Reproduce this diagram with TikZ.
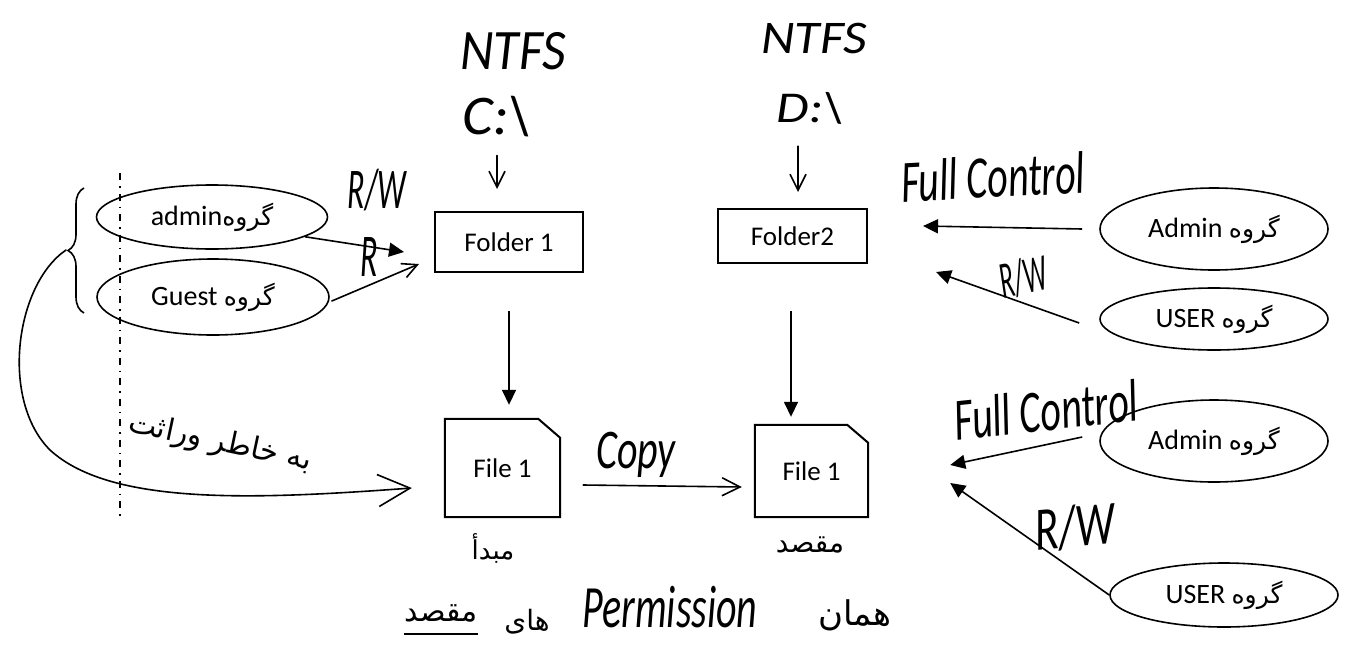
\documentclass[tikz,border=0pt]{standalone}
\usepackage{fontspec}
\usetikzlibrary{shapes.geometric,arrows.meta,decorations.pathreplacing}
\setmainfont{Carlito}
\newfontfamily\fa[Script=Arabic]{DejaVu Sans}
\TeXXeTstate=1
% the Persian word "group" that follows each group name
\newcommand\grpword{{\fa\fontsize{25}{30}\selectfont\beginR گروه\endR}}
\begin{document}
\begin{tikzpicture}[x=1pt,y=-1pt,
  grp/.style={draw, ellipse, line width=1.6pt, inner sep=0pt, font=\fontsize{28}{32}\selectfont},
  fbox/.style={draw, rectangle, line width=2pt, inner sep=0pt, font=\fontsize{27}{32}\selectfont},
  docnode/.style={rectangle, inner sep=0pt, font=\fontsize{27}{32}\selectfont},
  docline/.style={line width=2pt, line join=miter},
  hw/.style={font=\itshape\fontsize{#1}{#1}\selectfont, inner sep=0pt},
  fahw/.style={font=\fa\fontsize{#1}{#1}\selectfont, inner sep=0pt},
  link/.style={line width=1.6pt, -{Triangle[length=15pt,width=14pt]}},
  pen/.style={line width=1.6pt, line cap=round, -{Straight Barb[length=#1,width=#1]}},
  guide/.style={line width=1.5pt, dash pattern=on 7pt off 6pt on 1.5pt off 6pt}
]
\useasboundingbox (0,0) rectangle (1348,656);
\fill[white] (0,0) rectangle (1348,656);

% drives and folders
\node[hw=52] (ntfsc) at (513,51) {\scalebox{1}[1.1]{NTFS}};
\node[hw=56] (cdrive) at (497,117) {\scalebox{1.05}[1]{C:\textbackslash}};
\node[hw=52] (ntfsd) at (814,38) {\scalebox{1}[0.9]{NTFS}};
\node[hw=44] (ddrive) at (810,108) {\scalebox{1.2}[1]{D:\textbackslash}};

\node[fbox, minimum width=148pt, minimum height=60pt] (folder1) at (509,242) {Folder 1};
\node[fbox, minimum width=149pt, minimum height=54pt] (folder2) at (792.5,236) {Folder2};

\draw[pen=16pt] ([yshift=-18pt]cdrive.south) -- ([yshift=22pt]cdrive.south |- folder1.north);
\draw[pen=16pt] ([xshift=-12pt,yshift=-22pt]ddrive.south) -- ([xshift=-12pt,yshift=16pt]ddrive.south |- folder2.north);

% files
\node[docnode, minimum width=115pt, minimum height=98pt] (file1) at (502.5,468) {File 1};
\node[docnode, minimum width=113pt, minimum height=92pt] (file2) at (811.5,471) {File 1};
\draw[docline] (file1.south west) -- (file1.north west) -- ([xshift=-22pt]file1.north east)
  -- ([yshift=-19pt]file1.north east) -- (file1.south east) -- cycle;
\draw[docline] (file2.south west) -- (file2.north west) -- ([xshift=-21pt]file2.north east)
  -- ([yshift=-18pt]file2.north east) -- (file2.south east) -- cycle;

\draw[link] ([yshift=-38pt]folder1.south) -- ([yshift=14pt]folder1.south |- file1.north);
\draw[link] ([xshift=-1.5pt,yshift=-47pt]folder2.south) -- ([xshift=-1.5pt,yshift=8pt]folder2.south |- file2.north);

\draw[pen=18pt] ([xshift=23pt,yshift=-17pt]file1.east) -- ([xshift=-13pt,yshift=-16pt]file2.west);
\node[hw=40] (copy) at (636,455) {\scalebox{1}[1.4]{Copy}};

\node[fahw=26] (src) at (493,548) {\beginR مبدأ\endR};
\node[fahw=28] (dstlabel) at (810,545) {\beginR مقصد\endR};

% source groups
\draw[guide] (120,173) -- (120,518);
\node[grp, minimum width=231pt, minimum height=64pt] (admin) at (212,217) {admin\grpword};
\node[grp, minimum width=232pt, minimum height=76pt] (guest) at (213,297) {Guest \grpword};

\draw[link] (admin.-12) -- ([xshift=-30pt,yshift=-10pt]folder1.west);
\draw[pen=15pt] ([xshift=2pt,yshift=-4pt]guest.east) -- ([xshift=-15pt,yshift=-22pt]folder1.west);
\node[hw=32] (rw1) at (377,190) {\scalebox{1}[1.8]{R/W}};
\node[hw=32] (r1) at (369,257) {\scalebox{1}[1.9]{R}};

% inheritance
\draw[line width=1.6pt, decorate, decoration={brace, amplitude=16pt}] (84,313) -- (84,188);
\coordinate (bt) at (66,250);
\draw[pen=32pt] (bt) .. controls (15,285) and (0,400) .. (50,450)
  .. controls (110,505) and (250,500) .. ([xshift=-33pt,yshift=-20pt]file1.west);
\node[fahw=30] (inherit) at (220,443) {\rotatebox{-12}{\beginR به خاطر وراثت\endR}};

% destination groups
\node[grp, minimum width=228pt, minimum height=82pt] (admin2) at (1214,229) {Admin \grpword};
\node[grp, minimum width=228pt, minimum height=62pt] (user2) at (1214,319) {USER \grpword};
\node[grp, minimum width=228pt, minimum height=82pt] (admin3) at (1214,441) {Admin \grpword};
\node[grp, minimum width=228pt, minimum height=64pt] (user3) at (1224,595) {USER \grpword};

\draw[link] ([xshift=-17pt]admin2.west) -- ([xshift=55pt,yshift=10pt]folder2.east);
\draw[link] ([xshift=-20pt,yshift=-4pt]user2.west) -- ([xshift=68pt,yshift=-36pt]folder2.east);
\draw[link] ([xshift=-17pt,yshift=4pt]admin3.west) -- ([xshift=82pt,yshift=6pt]file2.east);
\draw[link] (user3.west) -- ([xshift=82pt,yshift=-12pt]file2.east);

\node[hw=40] (fc1) at (993,177) {\rotatebox{3}{\scalebox{1}[1.5]{Full Control}}};
\node[hw=26] (rw2) at (1023,277) {\rotatebox{12}{\scalebox{1}[2]{R/W}}};
\node[hw=40] (fc2) at (1046,410) {\rotatebox{6}{\scalebox{1}[1.5]{Full Control}}};
\node[hw=44] (rw3) at (1075,527) {\rotatebox{5}{\scalebox{1}[1.4]{R/W}}};

% bottom remark
\node[fahw=30] (dst) at (441,613) {\beginR مقصد\endR};
\draw[line width=1.4pt] ([yshift=-12pt]dst.south west) -- ([yshift=-12pt]dst.south east);
\node[fahw=28] (haye) at (527,622) {\beginR های\endR};
\node[hw=40] (perm) at (670,607) {\scalebox{1}[1.5]{Permission}};
\node[fahw=34] (haman) at (855,615) {\beginR همان\endR};
\end{tikzpicture}
\end{document}
